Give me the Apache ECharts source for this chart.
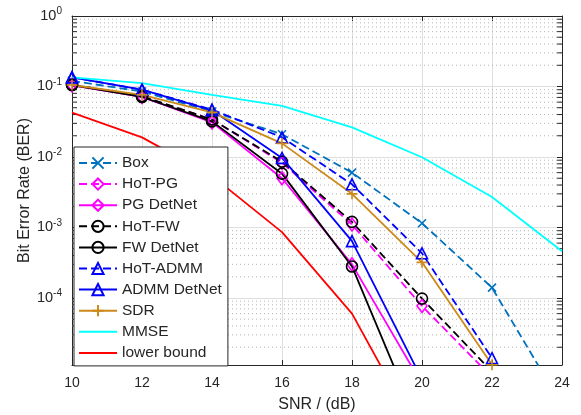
<!DOCTYPE html>
<html>
<head>
<meta charset="utf-8">
<script src="https://cdn.jsdelivr.net/npm/echarts@6/dist/echarts.min.js"></script>
<style>
  html, body { margin: 0; padding: 0; background: #fff; }
  #main { width: 581px; height: 415px; }
</style>
</head>
<body>
<div id="main"></div>
<script>
// SNR points (dB)
var snr = [10, 12, 14, 16, 18, 20, 22, 24];

// BER
var box        = [0.12, 0.085, 0.044, 0.021, 6.0e-3, 1.15e-3, 1.4e-4, 3e-6];
var hotPG      = [0.105, 0.072, 0.034, 8.3e-3, 1.1e-3, 7.7e-5, 7.5e-6];
var pgDetNet   = [0.104, 0.071, 0.031, 5.0e-3, 3.0e-4, 6e-6];
var hotFW      = [0.106, 0.073, 0.034, 8.6e-3, 1.2e-3, 9.8e-5, 9e-6];
var fwDetNet   = [0.105, 0.071, 0.032, 5.8e-3, 2.8e-4, 1.2e-6];
var hotADMM    = [0.135, 0.09, 0.047, 0.019, 4.1e-3, 4.3e-4, 1.4e-5];
var admmDetNet = [0.135, 0.09, 0.046, 9.7e-3, 6.4e-4, 7e-6];
var sdr        = [0.105, 0.076, 0.043, 0.0156, 3.0e-3, 3.2e-4, 1.13e-5];
var mmse       = [0.135, 0.112, 0.076, 0.053, 0.0263, 0.0099, 2.7e-3, 4.6e-4];
var lowerBound = [0.0425, 0.019, 5.4e-3, 8.6e-4, 6.0e-5, 9.4e-7];

// axis range / ticks
var xMin = 10, xMax = 24;
var yMin = 1.12e-5, yMax = 1;
var minorMult = [2, 3, 4, 5, 6, 7, 8, 9];
var minorDecades = [1e-5, 1e-4, 1e-3, 1e-2, 1e-1];
var minorTickLen = 0.14; // in SNR units, ~5px

var FONT = 'Liberation Sans';
var AX = '#262626';

// dotted minor grid and minor ticks on the left/right axes
var minorGrid = [], minorTicks = [];
minorDecades.forEach(function (d) {
  minorMult.forEach(function (m) {
    var v = m * d;
    if (v > yMin && v < yMax) {
      minorGrid.push([xMin, v], [xMax, v], ['-', '-']);
      minorTicks.push([xMin, v], [xMin + minorTickLen, v], ['-', '-'],
        [xMax - minorTickLen, v], [xMax, v], ['-', '-']);
    }
  });
});

var SYM = {
  x: 'path://M0,0L10,10M10,0L0,10',
  plus: 'path://M5,0L5,10M0,5L10,5',
  diamond: 'diamond',
  circle: 'circle',
  triangle: 'triangle',
  none: 'none'
};

function mk(name, vals, color, dashed, sym, size) {
  return {
    name: name,
    type: 'line',
    z: 3,
    data: vals.map(function (v, i) { return [snr[i], v]; }),
    symbol: SYM[sym],
    symbolSize: size,
    showSymbol: sym !== 'none',
    clip: true,
    lineStyle: { color: color, width: 1.8, type: dashed ? [8, 4] : 'solid' },
    itemStyle: { color: 'transparent', borderColor: color, borderWidth: 1.6 },
    emphasis: { disabled: true }
  };
}

var series = [
  {
    name: 'minor grid',
    type: 'line',
    z: 1,
    silent: true,
    symbol: 'none',
    connectNulls: false,
    data: minorGrid,
    lineStyle: { type: [1, 3], color: '#b4b4b4', width: 1 }
  },
  {
    name: 'minor ticks',
    type: 'line',
    z: 2,
    silent: true,
    symbol: 'none',
    connectNulls: false,
    data: minorTicks,
    lineStyle: { color: AX, width: 1 }
  },
  mk('Box', box, '#0072BD', true, 'x', 8),
  mk('HoT-PG', hotPG, '#FF00FF', true, 'diamond', [10, 13]),
  mk('PG DetNet', pgDetNet, '#FF00FF', false, 'diamond', [10, 13]),
  mk('HoT-FW', hotFW, '#000000', true, 'circle', 11),
  mk('FW DetNet', fwDetNet, '#000000', false, 'circle', 11),
  mk('HoT-ADMM', hotADMM, '#0000FF', true, 'triangle', 11),
  mk('ADMM DetNet', admmDetNet, '#0000FF', false, 'triangle', 11),
  mk('SDR', sdr, '#CC8A1A', false, 'plus', 11),
  mk('MMSE', mmse, '#00FFFF', false, 'none', 0),
  mk('lower bound', lowerBound, '#FF0000', false, 'none', 0)
];

var legendNames = ['Box', 'HoT-PG', 'PG DetNet', 'HoT-FW', 'FW DetNet', 'HoT-ADMM',
  'ADMM DetNet', 'SDR', 'MMSE', 'lower bound'];
var noMarker = ['MMSE', 'lower bound'];

function logLabel(v) {
  var e = Math.log10(v);
  if (Math.abs(e - Math.round(e)) > 0.01) return '';
  return '{b|10}{s|' + Math.round(e) + '}';
}

var chart = echarts.init(document.getElementById('main'));
chart.setOption({
  animation: false,
  textStyle: { fontFamily: FONT },
  grid: { left: 72, right: 19, top: 16, bottom: 50, containLabel: false, outerBoundsMode: 'none' },
  legend: {
    data: legendNames.map(function (n) {
      return noMarker.indexOf(n) >= 0 ? { name: n, itemStyle: { opacity: 0 } } : { name: n };
    }),
    orient: 'vertical',
    left: 74,
    top: 147,
    padding: [8, 6, 5, 4],
    itemWidth: 38,
    itemHeight: 14,
    itemGap: 5.1,
    backgroundColor: '#fff',
    borderColor: AX,
    borderWidth: 1,
    borderRadius: 0,
    z: 10,
    selectedMode: false,
    textStyle: { fontFamily: FONT, fontSize: 15.5, color: AX }
  },
  xAxis: [{
    type: 'value',
    min: xMin, max: xMax, interval: 2,
    name: 'SNR / (dB)',
    nameLocation: 'middle',
    nameGap: 32,
    nameMoveOverlap: false,
    nameTextStyle: { fontFamily: FONT, fontSize: 16, color: AX },
    axisLine: { lineStyle: { color: AX, width: 1 } },
    axisTick: { inside: true, length: 5, lineStyle: { color: AX } },
    axisLabel: { margin: 11, fontFamily: FONT, fontSize: 14, color: AX },
    splitLine: { show: true, lineStyle: { color: '#dedede', width: 1 } }
  }, {
    type: 'value',
    position: 'top',
    min: xMin, max: xMax, interval: 2,
    axisLine: { show: true, lineStyle: { color: AX, width: 1 } },
    axisTick: { show: true, inside: true, length: 5, lineStyle: { color: AX } },
    axisLabel: { show: false },
    splitLine: { show: false }
  }],
  yAxis: [{
    type: 'log',
    logBase: 10,
    min: yMin, max: yMax,
    name: 'Bit Error Rate (BER)',
    nameLocation: 'middle',
    nameGap: 39,
    nameMoveOverlap: false,
    nameTextStyle: { fontFamily: FONT, fontSize: 16, color: AX },
    axisLine: { show: true, lineStyle: { color: AX, width: 1 } },
    axisTick: { show: true, inside: true, length: 5, lineStyle: { color: AX } },
    axisLabel: {
      margin: 10,
      color: AX,
      formatter: logLabel,
      rich: {
        b: { fontFamily: FONT, fontSize: 14.5, color: AX },
        s: { fontFamily: FONT, fontSize: 10, color: AX, padding: [0, 0, 9, 0] }
      }
    },
    splitLine: { show: true, lineStyle: { color: '#dedede', width: 1 } }
  }, {
    type: 'log',
    logBase: 10,
    position: 'right',
    min: yMin, max: yMax,
    axisLine: { show: true, lineStyle: { color: AX, width: 1 } },
    axisTick: { show: true, inside: true, length: 5, lineStyle: { color: AX } },
    axisLabel: { show: false },
    splitLine: { show: false }
  }],
  series: series
});
</script>
</body>
</html>
